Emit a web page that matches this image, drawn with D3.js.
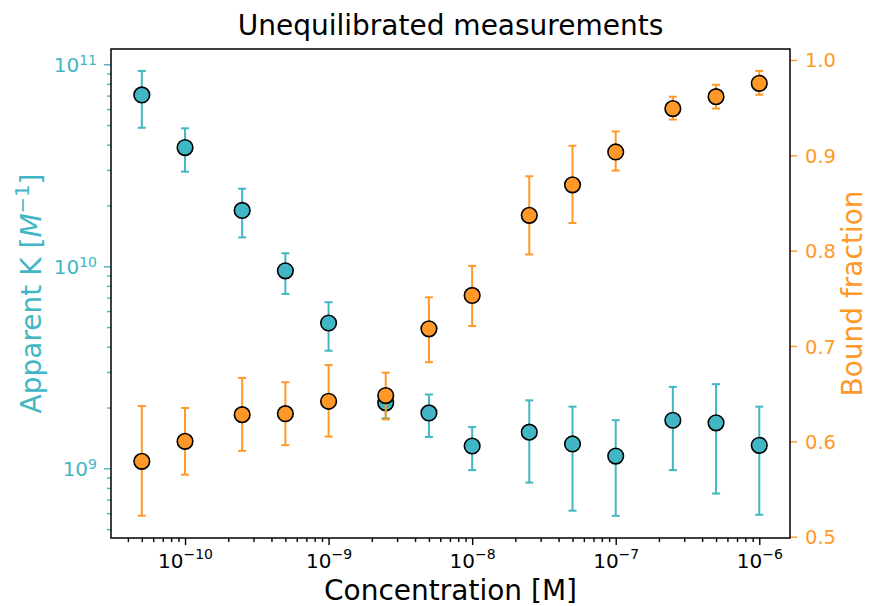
<title>Unequilibrated measurements</title>
<script src="https://cdn.jsdelivr.net/npm/d3@7"></script>
<style>
  body { margin: 0; background: #fff; }
  text { font-family: "DejaVu Sans", sans-serif; }
</style>
<body>
<div id="plot"></div>
<script>
// concentrations [M]
var conc = [5e-11, 1e-10, 2.5e-10, 5e-10, 1e-9, 2.5e-9, 5e-9, 1e-8, 2.5e-8, 5e-8, 1e-7, 2.5e-7, 5e-7, 1e-6];

// apparent K [1/M] with error bar ends
var kVal  = [7.05e10, 3.87e10, 1.89e10, 9.5e9, 5.24e9, 2.11e9, 1.88e9, 1.29e9, 1.51e9, 1.32e9, 1.15e9, 1.73e9, 1.68e9, 1.30e9];
var kHigh = [9.27e10, 4.82e10, 2.42e10, 1.16e10, 6.64e9, 2.44e9, 2.32e9, 1.60e9, 2.17e9, 2.02e9, 1.73e9, 2.53e9, 2.61e9, 2.02e9];
var kLow  = [4.85e10, 2.94e10, 1.39e10, 7.3e9, 3.82e9, 1.77e9, 1.43e9, 9.8e8, 8.5e8, 6.17e8, 5.82e8, 9.8e8, 7.5e8, 5.89e8];

// bound fraction with error bar ends
var fVal  = [0.579, 0.600, 0.628, 0.629, 0.642, 0.648, 0.718, 0.753, 0.837, 0.869, 0.9035, 0.949, 0.9615, 0.9755];
var fHigh = [0.637, 0.635, 0.6665, 0.662, 0.680, 0.672, 0.751, 0.784, 0.878, 0.910, 0.925, 0.9615, 0.974, 0.9885];
var fLow  = [0.522, 0.565, 0.590, 0.596, 0.605, 0.623, 0.683, 0.721, 0.796, 0.829, 0.884, 0.9375, 0.949, 0.9635];

var fTicks = [0.5, 0.6, 0.7, 0.8, 0.9, 1.0];
var xTicks = [1e-10, 1e-9, 1e-8, 1e-7, 1e-6];
var kTicks = [1e9, 1e10, 1e11];

var teal = "#41b6c4", orange = "#fe9929";
var W = 869, H = 606;
var mLeft = 111, mRight = 790, mTop = 49, mBottom = 538;

var svg = d3.select("#plot").append("svg")
    .attr("width", W).attr("height", H);

var x = d3.scaleLog().domain([3.05e-11, 1.637e-6]).range([mLeft, mRight]);
var yK = d3.scaleLog().domain([4.52e8, 1.19e11]).range([mBottom, mTop]);
var yF = d3.scaleLinear().domain([0.4986, 1.0115]).range([mBottom, mTop]);

function minors(lo, hi) {
    var out = [];
    for (var e = Math.floor(Math.log10(lo)); e <= Math.ceil(Math.log10(hi)); e++) {
        for (var m = 2; m < 10; m++) {
            var v = m * Math.pow(10, e);
            if (v >= lo && v <= hi) out.push(v);
        }
    }
    return out;
}

function supLabel(sel, color, dyMain, raise) {
    sel.selectAll(".tick text").each(function (d) {
        var t = d3.select(this).text(null).attr("fill", color).attr("dy", dyMain);
        var e = Math.round(Math.log10(d));
        t.append("tspan").text("10");
        t.append("tspan").attr("font-size", "14px").attr("dy", -raise)
            .text(String(e).replace("-", "\u2212"));
    });
}

// x axis
var gx = svg.append("g").attr("transform", "translate(0," + mBottom + ")");
gx.call(d3.axisBottom(x).tickValues(minors(3.05e-11, 1.637e-6)).tickSize(4).tickFormat(""));
var gxM = svg.append("g").attr("transform", "translate(0," + mBottom + ")")
    .call(d3.axisBottom(x).tickValues(xTicks).tickSize(7).tickPadding(3));
gxM.selectAll(".tick text").attr("y", 30);
supLabel(gxM, "#000", "0", 9);
[gx, gxM].forEach(function (g) {
    g.select(".domain").remove();
    g.selectAll(".tick line").attr("stroke", "#000").attr("stroke-width", 1.4);
});
gxM.attr("font-size", 20);

// left axis
var gk = svg.append("g").attr("transform", "translate(" + mLeft + ",0)")
    .call(d3.axisLeft(yK).tickValues(minors(4.52e8, 1.19e11)).tickSize(4).tickFormat(""));
var gkM = svg.append("g").attr("transform", "translate(" + mLeft + ",0)")
    .call(d3.axisLeft(yK).tickValues(kTicks).tickSize(7).tickPadding(7));
supLabel(gkM, teal, "0.37em", 7);
[gk, gkM].forEach(function (g) {
    g.select(".domain").remove();
    g.selectAll(".tick line").attr("stroke", teal).attr("stroke-width", 1.4);
});
gkM.attr("font-size", 20);

// right axis
var gf = svg.append("g").attr("transform", "translate(" + mRight + ",0)")
    .call(d3.axisRight(yF).tickValues(fTicks).tickSize(7).tickPadding(8).tickFormat(d3.format(".1f")));
gf.select(".domain").remove();
gf.selectAll(".tick line").attr("stroke", orange).attr("stroke-width", 1.4);
gf.selectAll(".tick text").attr("fill", orange).attr("dy", "0.36em");
gf.attr("font-size", 19.5);

// frame
svg.append("rect").attr("x", mLeft).attr("y", mTop)
    .attr("width", mRight - mLeft).attr("height", mBottom - mTop)
    .attr("fill", "none").attr("stroke", "#000").attr("stroke-width", 1.5);

function series(vals, lows, highs, yScale, color) {
    var g = svg.append("g");
    var pts = conc.map(function (c, i) { return {c: c, v: vals[i], lo: lows[i], hi: highs[i]}; });
    g.selectAll("line.bar").data(pts).enter().append("line")
        .attr("x1", function (d) { return x(d.c); }).attr("x2", function (d) { return x(d.c); })
        .attr("y1", function (d) { return yScale(d.lo); }).attr("y2", function (d) { return yScale(d.hi); })
        .attr("stroke", color).attr("stroke-width", 2);
    ["lo", "hi"].forEach(function (k) {
        g.selectAll("line.cap" + k).data(pts).enter().append("line")
            .attr("x1", function (d) { return x(d.c) - 4; }).attr("x2", function (d) { return x(d.c) + 4; })
            .attr("y1", function (d) { return yScale(d[k]); }).attr("y2", function (d) { return yScale(d[k]); })
            .attr("stroke", color).attr("stroke-width", 2);
    });
    g.selectAll("circle").data(pts).enter().append("circle")
        .attr("cx", function (d) { return x(d.c); })
        .attr("cy", function (d) { return yScale(d.v); })
        .attr("r", 7.8)
        .attr("fill", color).attr("stroke", "#000").attr("stroke-width", 1.6);
}
series(kVal, kLow, kHigh, yK, teal);
series(fVal, fLow, fHigh, yF, orange);

// labels
svg.append("text").attr("x", (mLeft + mRight) / 2).attr("y", 35)
    .attr("text-anchor", "middle").attr("font-size", 28).text("Unequilibrated measurements");
svg.append("text").attr("x", (mLeft + mRight) / 2).attr("y", 600)
    .attr("text-anchor", "middle").attr("font-size", 28).text("Concentration [M]");

var yl = svg.append("text").attr("transform", "translate(41," + ((mTop + mBottom) / 2) + ") rotate(-90)")
    .attr("text-anchor", "middle").attr("font-size", 28).attr("fill", teal);
yl.append("tspan").text("Apparent K [");
yl.append("tspan").attr("font-style", "italic").text("M");
yl.append("tspan").attr("font-size", "19.6px").attr("dy", -12).text("\u22121");
yl.append("tspan").attr("dy", 12).text("]");

svg.append("text").attr("transform", "translate(862," + ((mTop + mBottom) / 2) + ") rotate(-90)")
    .attr("text-anchor", "middle").attr("font-size", 28).attr("fill", orange).text("Bound fraction");
</script>
</body>
